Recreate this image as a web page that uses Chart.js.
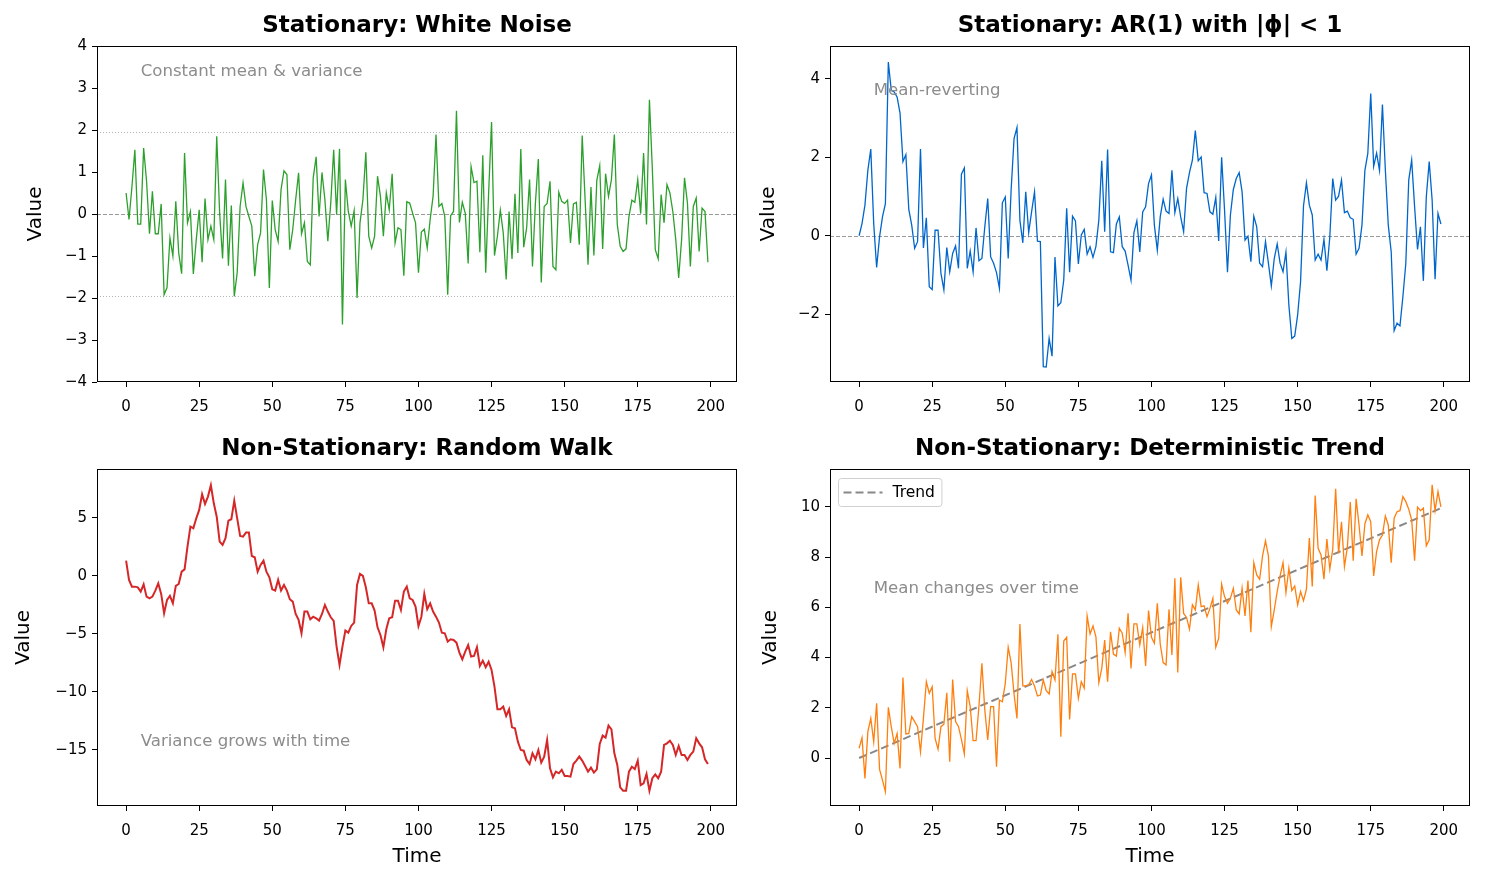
<!DOCTYPE html>
<html>
<head>
<meta charset="utf-8">
<script src="https://cdn.jsdelivr.net/npm/chart.js@4.4.1/dist/chart.umd.min.js"></script>
<style>
  html, body { margin: 0; padding: 0; background: #fff; }
  body { width: 1486px; height: 884px; position: relative; overflow: hidden; }
  canvas { position: absolute; }
</style>
</head>
<body>
<canvas id="noise" width="743" height="420" style="left:0;top:0"></canvas>
<canvas id="ar1" width="743" height="420" style="left:743px;top:0"></canvas>
<canvas id="walk" width="743" height="464" style="left:0;top:420px"></canvas>
<canvas id="trend" width="743" height="464" style="left:743px;top:420px"></canvas>
<script>
// time index 0..199 (np.arange(200))
const steps = Array.from({ length: 200 }, (_, i) => i);
const xTicks = [0, 25, 50, 75, 100, 125, 150, 175, 200];

const whiteNoise = [
  0.5, -0.13, 0.65, 1.53, -0.24, -0.24, 1.57, 0.78, -0.47, 0.54,
  -0.47, -0.47, 0.24, -1.92, -1.75, -0.57, -1.0, 0.3, -0.93, -1.42,
  1.45, -0.21, 0.06, -1.43, -0.61, 0.1, -1.15, 0.37, -0.61, -0.29,
  -0.61, 1.85, 0.02, -1.06, 0.82, -1.23, 0.2, -1.96, -1.4, 0.18,
  0.74, 0.18, -0.06, -0.29, -1.48, -0.73, -0.45, 1.06, 0.34, -1.76,
  0.32, -0.37, -0.65, 0.58, 1.03, 0.94, -0.85, -0.37, 0.34, 0.98,
  -0.47, -0.21, -1.13, -1.21, 0.86, 1.36, -0.06, 0.99, 0.34, -0.65,
  0.26, 1.53, -0.02, 1.55, -2.63, 0.82, 0.06, -0.29, 0.08, -2.0,
  -0.21, 0.34, 1.47, -0.53, -0.81, -0.53, 0.9, 0.42, -0.53, 0.5,
  0.1, 0.96, -0.69, -0.33, -0.37, -1.47, 0.29, 0.26, 0.02, -0.21,
  -1.4, -0.43, -0.36, -0.81, -0.13, 0.42, 1.89, 0.18, 0.25, -0.06,
  -1.92, -0.04, 0.06, 2.46, -0.2, 0.28, 0.02, -1.18, 1.13, 0.75,
  0.78, -0.91, 1.4, -1.4, 0.5, 2.19, -0.99, -0.53, 0.09, -0.45,
  -1.56, 0.06, -1.07, 0.48, -0.93, 1.55, -0.79, -0.33, 0.82, -1.25,
  0.26, 1.31, -1.63, 0.18, 0.25, 0.78, -1.25, -1.33, 0.52, 0.3,
  0.25, 0.33, -0.69, 0.24, 0.28, -0.73, 1.87, 0.34, -1.21, 0.64,
  -0.99, 0.8, 1.15, -0.83, 0.96, 0.42, 0.82, 1.89, -0.25, -0.77,
  -0.89, -0.83, -0.06, 0.33, 0.28, 0.82, 0.01, 1.45, -0.25, 2.72,
  1.06, -0.85, -1.07, 0.46, -0.21, 0.7, 0.5, 0.06, -0.61, -1.52,
  -0.61, 0.86, 0.26, -1.25, 0.18, 0.38, -0.89, 0.14, 0.06, -1.15
];

const ar1 = [
  0.0, 0.31, 0.78, 1.67, 2.21, 0.31, -0.81, -0.03, 0.48, 0.82,
  4.43, 3.71, 3.67, 3.54, 3.13, 1.89, 2.07, 0.67, 0.27, -0.32,
  -0.15, 2.21, -0.31, 0.46, -1.3, -1.37, 0.14, 0.14, -0.96, -1.38,
  -0.3, -0.92, -0.45, -0.26, -0.83, 1.57, 1.73, -0.83, -0.39, -0.92,
  0.2, -0.64, -0.58, 0.23, 0.95, -0.54, -0.7, -0.94, -1.34, 0.84,
  0.99, -0.58, 1.16, 2.48, 2.76, 0.4, -0.18, 1.12, 0.08, 0.61,
  1.12, -0.14, -0.15, -3.34, -3.35, -2.62, -3.07, -0.54, -1.79, -1.71,
  -1.13, 0.7, -0.93, 0.5, 0.38, -0.72, 0.02, 0.16, -0.47, -0.28,
  -0.55, -0.28, 0.4, 1.91, 0.1, 2.2, -0.41, -0.43, 0.3, 0.48,
  -0.28, -0.39, -0.75, -1.13, 0.08, 0.38, -0.41, 0.61, 0.74, 1.33,
  1.55, 0.27, -0.37, 0.48, 0.93, 0.63, 0.57, 1.67, 0.59, 0.95,
  0.48, 0.1, 1.21, 1.61, 1.93, 2.68, 1.91, 2.01, 1.1, 1.08,
  0.61, 0.55, 0.98, -0.13, 2.0, 0.65, -0.93, 0.53, 1.18, 1.46,
  1.61, 1.12, -0.11, -0.01, -0.66, 0.5, 0.23, -0.7, -0.79, -0.15,
  -0.7, -1.28, -0.58, -0.21, -0.7, -0.92, -0.42, -1.77, -2.62, -2.56,
  -2.02, -1.17, 0.76, 1.35, 0.78, 0.53, -0.62, -0.47, -0.62, -0.09,
  -0.89, -0.03, 1.46, 0.91, 1.01, 1.42, 0.59, 0.63, 0.46, 0.42,
  -0.47, -0.32, 0.27, 1.67, 2.1, 3.63, 1.77, 2.11, 1.67, 3.35,
  1.67, 0.27, -0.41, -2.42, -2.23, -2.3, -1.55, -0.7, 1.42, 1.93,
  0.74, -0.35, 0.23, -1.15, 0.99, 1.89, 0.91, -1.11, 0.57, 0.3
];

const randomWalk = [
  1.32, -0.34, -0.92, -0.92, -0.98, -1.35, -0.72, -1.78, -1.93, -1.78,
  -1.26, -0.63, -1.55, -3.22, -2.07, -1.72, -2.36, -0.86, -0.69, 0.37,
  0.57, 2.53, 4.25, 4.11, 4.97, 5.69, 7.04, 6.21, 6.84, 7.82,
  6.26, 5.11, 2.96, 2.67, 3.25, 4.77, 4.89, 6.49, 4.97, 3.45,
  3.39, 3.74, 3.74, 1.72, 1.61, 0.37, 0.95, 1.32, 0.37, -0.11,
  -1.15, -1.26, -0.34, -1.26, -0.78, -1.26, -2.01, -2.21, -3.28, -3.79,
  -4.94, -3.07, -3.07, -3.74, -3.51, -3.65, -3.85, -3.28, -2.5, -3.07,
  -3.56, -3.88, -6.09, -7.67, -6.09, -4.71, -4.89, -4.31, -4.02, -0.78,
  0.17, 0.0, -0.98, -2.36, -2.36, -2.99, -4.43, -5.09, -6.15, -4.6,
  -3.65, -3.56, -2.13, -2.13, -2.93, -1.35, -0.92, -1.93, -2.07, -2.64,
  -4.31, -3.51, -1.55, -2.87, -2.36, -3.07, -3.51, -4.02, -4.89, -4.94,
  -5.66, -5.46, -5.52, -5.75, -6.61, -7.18, -6.52, -5.95, -6.95, -6.9,
  -6.15, -7.76, -7.3, -7.87, -7.39, -8.1, -9.54, -11.49, -11.49, -11.26,
  -12.07, -11.49, -13.05, -13.13, -14.28, -15.0, -15.06, -15.86, -16.21, -15.29,
  -15.8, -15.0, -16.09, -15.57, -14.14, -16.58, -17.36, -16.87, -17.01, -16.72,
  -17.24, -17.24, -17.3, -16.21, -15.92, -15.57, -15.92, -16.38, -16.87, -16.52,
  -16.95, -16.67, -14.48, -13.76, -13.94, -12.9, -13.22, -15.29, -16.29, -18.22,
  -18.51, -18.51, -16.87, -16.44, -16.64, -15.92, -18.02, -17.87, -17.07, -18.51,
  -17.44, -17.1, -17.44, -16.87, -14.57, -14.43, -14.2, -14.57, -15.43, -14.66,
  -15.43, -15.43, -15.86, -15.43, -15.14, -13.99, -14.43, -14.77, -15.8, -16.21
];

const trendSeries = [
  0.39, 0.81, -0.81, 1.05, 1.58, 0.65, 2.18, -0.45, -0.88, -1.34,
  2.02, 1.25, 0.58, 0.98, -0.41, 3.21, 0.96, 0.98, 1.65, 1.45,
  1.25, 0.25, 1.58, 3.04, 2.58, 2.84, 0.78, 0.35, 1.25, 1.35,
  2.6, -0.15, 3.13, 1.45, 1.25, 0.74, 0.16, 2.68, 2.05, 0.69,
  0.69, 2.07, 3.77, 1.91, 0.72, 2.05, 2.05, -0.35, 2.31, 2.24,
  2.97, 4.41, 3.8, 2.55, 1.58, 5.34, 2.87, 2.87, 2.91, 3.13,
  2.87, 2.47, 2.51, 3.11, 2.68, 2.55, 3.44, 3.11, 4.93, 0.85,
  4.66, 4.81, 1.54, 3.35, 3.35, 2.38, 3.04, 2.78, 5.66, 4.94,
  5.26, 4.83, 3.0, 3.57, 4.7, 3.04, 5.03, 4.14, 4.06, 5.17,
  4.97, 4.2, 5.76, 3.57, 5.34, 5.34, 4.5, 5.19, 3.67, 5.87,
  4.81, 4.57, 6.16, 4.54, 3.8, 3.71, 5.92, 4.1, 7.16, 3.41,
  7.2, 5.76, 5.6, 5.13, 6.1, 5.9, 6.89, 6.03, 6.06, 5.63,
  5.96, 6.36, 4.41, 4.77, 6.93, 6.43, 6.16, 6.36, 6.76, 5.9,
  5.74, 6.76, 5.66, 7.07, 5.01, 7.78, 7.29, 7.12, 8.05, 8.65,
  8.05, 5.23, 5.9, 6.63, 7.25, 7.78, 6.59, 7.56, 6.67, 6.85,
  6.1, 6.63, 6.27, 6.72, 8.76, 6.83, 10.45, 8.35, 8.09, 7.12,
  8.72, 7.52, 8.31, 10.72, 8.15, 9.41, 7.62, 8.39, 10.19, 7.86,
  10.32, 9.28, 8.05, 9.32, 9.68, 9.41, 7.25, 8.22, 8.69, 8.88,
  9.64, 9.28, 7.78, 9.55, 9.81, 9.85, 10.41, 10.21, 9.91, 9.48,
  7.86, 9.99, 9.85, 9.95, 8.45, 8.69, 10.88, 9.85, 10.61, 10.0
];

// straight trend line, endpoints only
const trendX = [0, 199];
const trendY = [0, 9.95];

Chart.defaults.font.family = "'DejaVu Sans', sans-serif";
Chart.defaults.color = '#000';

const minus = v => String(v).replace('-', '\u2212');

// black box round the axes, like matplotlib spines
const framePlugin = {
  id: 'frame',
  afterDraw(chart) {
    const a = chart.chartArea, c = chart.ctx;
    c.save();
    c.strokeStyle = '#000';
    c.lineWidth = 1;
    c.strokeRect(Math.round(a.left) + 0.5, Math.round(a.top) + 0.5,
                 Math.round(a.right - a.left) - 1, Math.round(a.bottom - a.top) - 1);
    c.restore();
  }
};

// horizontal reference lines (axhline)
const refPlugin = {
  id: 'refLines',
  beforeDatasetsDraw(chart, args, opts) {
    const lines = opts.lines || [];
    const a = chart.chartArea, c = chart.ctx, y = chart.scales.y;
    lines.forEach(l => {
      const py = Math.round(y.getPixelForValue(l.value)) + 0.5;
      c.save();
      c.strokeStyle = l.color;
      c.lineWidth = l.width;
      c.setLineDash(l.dash);
      c.beginPath();
      c.moveTo(a.left, py);
      c.lineTo(a.right, py);
      c.stroke();
      c.restore();
    });
  }
};

// grey text note inside the axes
const notePlugin = {
  id: 'note',
  afterDatasetsDraw(chart, args, opts) {
    if (!opts.text) return;
    const c = chart.ctx;
    c.save();
    c.font = "16.6px 'DejaVu Sans', sans-serif";
    c.fillStyle = '#8c8c8c';
    c.textAlign = 'left';
    c.textBaseline = 'middle';
    c.fillText(opts.text, chart.scales.x.getPixelForValue(opts.x), chart.scales.y.getPixelForValue(opts.y));
    c.restore();
  }
};

// matplotlib-style legend in the upper left corner of the axes,
// built from the labelled datasets
const cornerLegend = {
  id: 'cornerLegend',
  afterDatasetsDraw(chart, args, opts) {
    if (!opts.display) return;
    const items = chart.data.datasets.filter(d => d.label);
    if (!items.length) return;
    const a = chart.chartArea, c = chart.ctx;
    c.save();
    c.font = "15.5px 'DejaVu Sans', sans-serif";
    const tw = Math.max(...items.map(d => c.measureText(d.label).width));
    const rowH = 28;
    const x0 = a.left + 8.5, y0 = a.top + 9.5;
    const w = 5 + 39 + 10 + tw + 7, h = rowH * items.length;
    c.fillStyle = 'rgba(255,255,255,0.8)';
    c.strokeStyle = '#d0d0d0';
    c.lineWidth = 1;
    c.beginPath();
    c.roundRect(x0, y0, w, h, 3);
    c.fill();
    c.stroke();
    items.forEach((d, i) => {
      const cy = y0 + rowH * i + rowH / 2;
      c.strokeStyle = d.borderColor;
      c.lineWidth = d.borderWidth;
      c.setLineDash(d.borderDash || []);
      c.beginPath();
      c.moveTo(x0 + 5, cy);
      c.lineTo(x0 + 44, cy);
      c.stroke();
      c.setLineDash([]);
      c.fillStyle = '#000';
      c.textAlign = 'left';
      c.textBaseline = 'middle';
      c.fillText(d.label, x0 + 54, cy);
    });
    c.restore();
  }
};

function makePanel(id, p) {
  new Chart(document.getElementById(id), {
    type: 'line',
    data: { labels: steps, datasets: p.datasets },
    options: {
      responsive: false,
      animation: false,
      layout: { padding: { left: 0, right: p.padRight, top: 0, bottom: 0 } },
      elements: { point: { radius: 0 }, line: { tension: 0 } },
      plugins: {
        title: {
          display: true, text: p.title, fullSize: false, color: '#000',
          font: { size: 23, weight: 'bold' },
          padding: { top: p.titleTop, bottom: p.titleBottom }
        },
        legend: { display: false },
        tooltip: { enabled: false },
        refLines: { lines: p.refLines || [] },
        note: p.note,
        cornerLegend: { display: !!p.showLegend }
      },
      scales: {
        x: {
          type: 'linear', min: -9.95, max: 208.95,
          afterFit: s => { s.height = p.xHeight; },
          afterBuildTicks: s => { s.ticks = xTicks.map(v => ({ value: v })); },
          ticks: { autoSkip: false, maxRotation: 0, padding: 11, font: { size: 15 }, color: '#000' },
          grid: { display: true, drawOnChartArea: false, tickLength: 5, color: '#000' },
          border: { display: false },
          title: { display: !!p.xTitle, text: 'Time', font: { size: 20 }, color: '#000', padding: { top: 0, bottom: 15 } }
        },
        y: {
          min: p.yMin, max: p.yMax,
          afterFit: s => { s.width = p.yWidth; },
          afterBuildTicks: s => { s.ticks = p.yTicks.map(v => ({ value: v })); },
          ticks: { autoSkip: false, padding: 5, font: { size: 15 }, color: '#000', callback: v => minus(v) },
          grid: { display: true, drawOnChartArea: false, tickLength: 5, color: '#000' },
          border: { display: false },
          title: { display: true, text: 'Value', font: { size: 20 }, color: '#000', padding: { top: p.yTitleLeft, bottom: 0 } }
        }
      }
    },
    plugins: [refPlugin, notePlugin, cornerLegend, framePlugin]
  });
}

makePanel('noise', {
  title: 'Stationary: White Noise',
  titleTop: 12, titleBottom: 6.4, padRight: 6, xHeight: 38, yWidth: 97, yTitleLeft: 24,
  yMin: -4, yMax: 4, yTicks: [-4, -3, -2, -1, 0, 1, 2, 3, 4],
  datasets: [{ data: whiteNoise, borderColor: '#2ca02c', borderWidth: 1.3 }],
  refLines: [
    { value: 0, color: 'rgba(128,128,128,0.8)', width: 1, dash: [4, 2] },
    { value: 1.96, color: 'rgba(128,128,128,0.6)', width: 1, dash: [1, 2] },
    { value: -1.96, color: 'rgba(128,128,128,0.6)', width: 1, dash: [1, 2] }
  ],
  note: { text: 'Constant mean & variance', x: 5, y: 3.4 }
});

makePanel('ar1', {
  title: 'Stationary: AR(1) with |\u03D5| < 1',
  titleTop: 12, titleBottom: 6.4, padRight: 16, xHeight: 38, yWidth: 87, yTitleLeft: 14,
  yMin: -3.73, yMax: 4.84, yTicks: [-2, 0, 2, 4],
  datasets: [{ data: ar1, borderColor: '#0066cc', borderWidth: 1.3 }],
  refLines: [{ value: 0, color: 'rgba(128,128,128,0.8)', width: 1, dash: [4, 2] }],
  note: { text: 'Mean-reverting', x: 5, y: 3.7 }
});

makePanel('walk', {
  title: 'Non-Stationary: Random Walk',
  titleTop: 15, titleBottom: 6.4, padRight: 6, xHeight: 78, xTitle: true, yWidth: 97, yTitleLeft: 12,
  yMin: -19.83, yMax: 9.22, yTicks: [-15, -10, -5, 0, 5],
  datasets: [{ data: randomWalk, borderColor: '#d62728', borderWidth: 2 }],
  note: { text: 'Variance grows with time', x: 5, y: -14.3 }
});

makePanel('trend', {
  title: 'Non-Stationary: Deterministic Trend',
  titleTop: 15, titleBottom: 6.4, padRight: 16, xHeight: 78, xTitle: true, yWidth: 87, yTitleLeft: 16,
  yMin: -1.91, yMax: 11.51, yTicks: [0, 2, 4, 6, 8, 10],
  datasets: [
    { data: trendSeries, borderColor: '#ff7f0e', borderWidth: 1.3 },
    { label: 'Trend', data: trendX.map((t, i) => ({ x: t, y: trendY[i] })),
      borderColor: '#888888', borderWidth: 2, borderDash: [8, 4] }
  ],
  showLegend: true,
  note: { text: 'Mean changes over time', x: 5, y: 6.75 }
});
</script>
</body>
</html>
